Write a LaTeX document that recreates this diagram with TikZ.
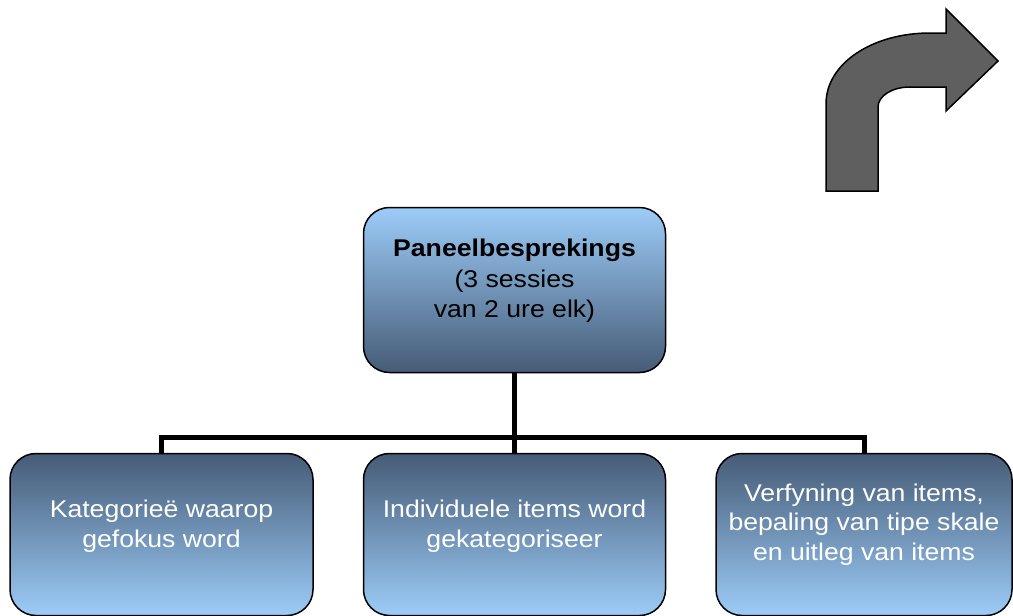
\documentclass[tikz,border=0pt]{standalone}
\usepackage{fontspec}
\setmainfont[FakeStretch=1.1]{Liberation Sans}
\definecolor{lightb}{HTML}{9CCCF8}
\definecolor{darkb}{HTML}{465B76}
\definecolor{arrowgray}{HTML}{5F5F5F}
\tikzset{
  box/.style={draw=black, line width=1.5pt, rounded corners=26pt, inner sep=0pt},
  parentbox/.style={box, minimum width=302pt, minimum height=165pt, top color=lightb, bottom color=darkb},
  childbox/.style={box, minimum height=162pt, top color=darkb, bottom color=lightb},
  ptext/.style={align=center, font=\fontsize{24.2}{30.5}\selectfont, text=black},
  ctext/.style={align=center, font=\fontsize{24.2}{29.5}\selectfont, text=white},
  conn/.style={draw=black, line width=5pt, line join=miter},
  bentarrow/.style={fill=arrowgray, draw=black, line width=1.5pt, line join=miter}
}
\begin{document}
\begin{tikzpicture}[x=1pt, y=-1pt]
\useasboundingbox (0,0) rectangle (1013,616);
% bent arrow
\draw[bentarrow] (826,191) -- (826,104)
  .. controls (826,63) and (873,33) .. (930,33)
  -- (946,33) -- (946,9) -- (998,61) -- (946,111) -- (946,87) -- (910,87)
  .. controls (892,87) and (878,96) .. (878,107)
  -- (878,191) -- cycle;
% boxes
\node[parentbox] (p) at (514.5,290) {};
\node[ptext] (pt) at (514.5,281) {\textbf{Paneelbesprekings}\\(3 sessies\\van 2 ure elk)};
\node[childbox, minimum width=303pt] (c1) at (161.5,534.5) {};
\node[ctext] (c1t) at (161.5,526) {Kategorieë waarop\\gefokus word};
\node[childbox, minimum width=302pt] (c2) at (514.5,534.5) {};
\node[ctext] (c2t) at (514.5,526) {Individuele items word\\gekategoriseer};
\node[childbox, minimum width=296pt] (c3) at (864,534.5) {};
\node[ctext] (c3t) at (864,524.5) {Verfyning van items,\\bepaling van tipe skale\\en uitleg van items};
% connectors
\coordinate (bus) at (514.5,437);
\draw[conn] (p.south) -- (bus);
\draw[conn] (c1.north) |- (bus) -| (c3.north);
\draw[conn] (bus) -- (c2.north);
\end{tikzpicture}
\end{document}
